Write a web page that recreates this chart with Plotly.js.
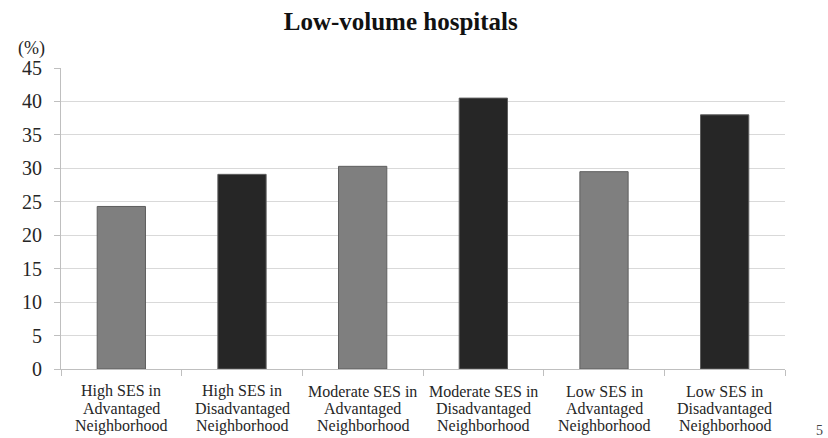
<!DOCTYPE html>
<html>
<head>
<meta charset="utf-8">
<script src="https://cdn.plot.ly/plotly-3.0.1.min.js"></script>
<style>
  html, body { margin: 0; padding: 0; background: #ffffff; }
  #chart { width: 828px; height: 438px; }
</style>
</head>
<body>
<div id="chart"></div>
<script>
// Share of patients treated at low-volume hospitals, by SES group and neighborhood
const categories = [
  'High SES in|Advantaged|Neighborhood',
  'High SES in|Disadvantaged|Neighborhood',
  'Moderate SES in|Advantaged|Neighborhood',
  'Moderate SES in|Disadvantaged|Neighborhood',
  'Low SES in|Advantaged|Neighborhood',
  'Low SES in|Disadvantaged|Neighborhood'
];
const neighborhood = ['Advantaged', 'Disadvantaged', 'Advantaged', 'Disadvantaged', 'Advantaged', 'Disadvantaged'];
const percentages = [24.3, 29.1, 30.3, 40.5, 29.5, 38.0];
const yTicks = [0, 5, 10, 15, 20, 25, 30, 35, 40, 45];

const fillFor = { Advantaged: '#7f7f7f', Disadvantaged: '#262626' };
const serif = '"Liberation Serif", serif';

const trace = {
  type: 'bar',
  x: categories,
  y: percentages,
  marker: {
    color: neighborhood.map(n => fillFor[n]),
    line: { color: '#5e5e5e', width: 1 }
  },
  hoverinfo: 'x+y'
};

// Category labels: one annotation per text line for tight line spacing
const labelAnnotations = [];
categories.forEach(cat => {
  cat.split('|').forEach((line, j) => {
    labelAnnotations.push({
      x: cat, xref: 'x',
      y: 0, yref: 'paper',
      yanchor: 'middle', xanchor: 'center',
      yshift: -(22 + j * 17.5),
      text: line,
      showarrow: false,
      font: { family: serif, size: 16, color: '#262626' }
    });
  });
});

const layout = {
  width: 828,
  height: 438,
  margin: { l: 61, r: 43, t: 68, b: 69 },
  paper_bgcolor: '#ffffff',
  plot_bgcolor: '#ffffff',
  showlegend: false,
  bargap: 0.6,
  title: {
    text: 'Low-volume hospitals',
    x: 0.484, xref: 'container', xanchor: 'center',
    y: 1 - 21 / 438, yref: 'container', yanchor: 'middle',
    font: { family: serif, size: 25, weight: 'bold', color: '#111111' }
  },
  xaxis: {
    type: 'category',
    showticklabels: false,
    tickson: 'boundaries',
    ticks: 'outside',
    ticklen: 6,
    tickcolor: '#bfbfbf',
    showline: true,
    linecolor: '#bfbfbf',
    linewidth: 1,
    showgrid: false,
    fixedrange: true
  },
  yaxis: {
    range: [0, 45],
    tickvals: yTicks,
    ticktext: yTicks.map(String),
    ticks: 'outside',
    ticklen: 6,
    tickcolor: '#bfbfbf',
    ticklabelstandoff: 8,
    showline: true,
    linecolor: '#bfbfbf',
    linewidth: 1,
    showgrid: true,
    gridcolor: '#d9d9d9',
    gridwidth: 1,
    zeroline: false,
    tickfont: { family: serif, size: 20, color: '#262626' },
    fixedrange: true
  },
  annotations: labelAnnotations.concat([
    {
      text: '(%)',
      xref: 'paper', yref: 'paper',
      x: (31 - 61) / 724, y: (369 - 48) / 301,
      xanchor: 'center', yanchor: 'middle',
      showarrow: false,
      font: { family: serif, size: 18, color: '#262626' }
    },
    {
      text: '5',
      xref: 'paper', yref: 'paper',
      x: (819 - 61) / 724, y: (369 - 430) / 301,
      xanchor: 'center', yanchor: 'middle',
      showarrow: false,
      font: { family: serif, size: 14, color: '#444444' }
    }
  ])
};

Plotly.newPlot('chart', [trace], layout, { displayModeBar: false, staticPlot: true });
</script>
</body>
</html>
